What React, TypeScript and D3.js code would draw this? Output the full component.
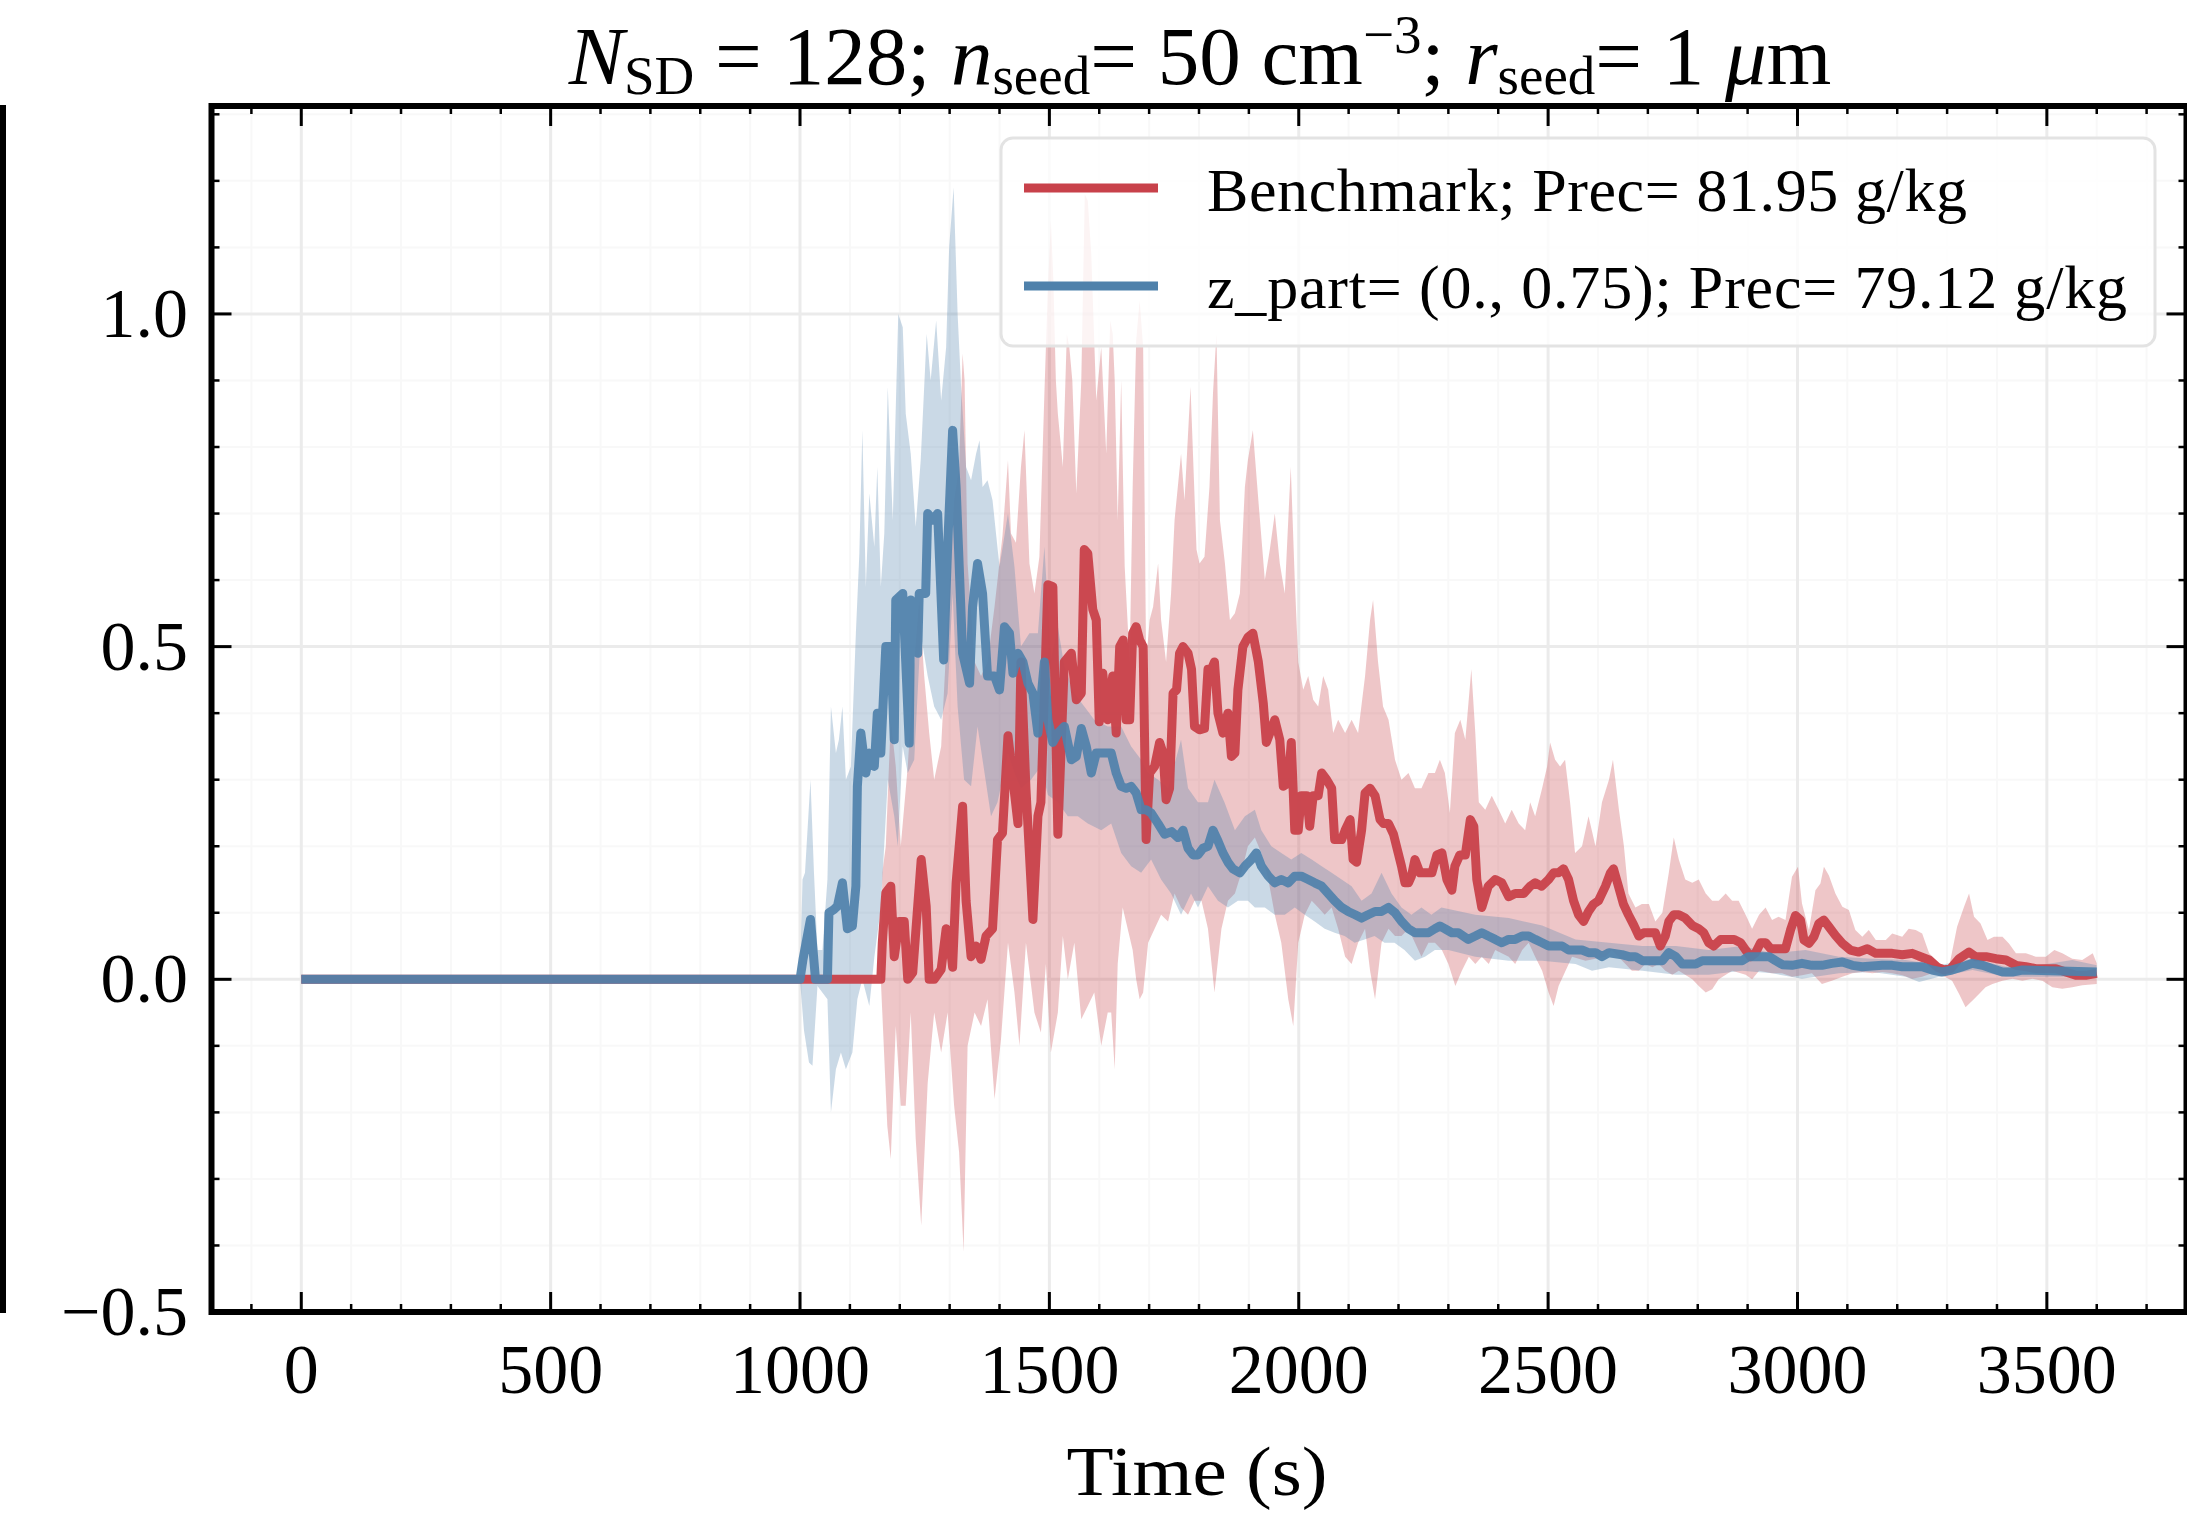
import React from "react";
import * as d3 from "d3";

// ---------- data (time [s], value) ----------
const redLine: [number, number][] = [
  [0,0],[1162,0],[1165,0.055],[1172,0.13],[1182,0.14],[1189,0.034],[1199,0.087],[1209,0.087],[1216,0],[1226,0.01],[1243,0.18],[1253,0.11],[1259,0],[1269,0],[1283,0.015],[1293,0.076],[1299,0.065],[1306,0.018],[1313,0.145],[1326,0.26],[1333,0.118],[1343,0.034],[1353,0.05],[1363,0.03],[1373,0.065],[1386,0.076],[1396,0.21],[1406,0.22],[1417,0.366],[1427,0.30],[1437,0.234],[1443,0.477],[1453,0.287],[1467,0.09],[1477,0.245],[1483,0.266],[1497,0.593],[1507,0.59],[1517,0.218],[1530,0.477],[1544,0.49],[1554,0.42],[1564,0.43],[1570,0.646],[1577,0.64],[1587,0.556],[1594,0.54],[1600,0.387],[1607,0.46],[1617,0.39],[1627,0.456],[1634,0.37],[1641,0.5],[1648,0.51],[1654,0.39],[1661,0.39],[1667,0.52],[1674,0.53],[1681,0.51],[1688,0.5],[1694,0.21],[1701,0.31],[1711,0.32],[1721,0.356],[1728,0.34],[1734,0.27],[1741,0.287],[1748,0.43],[1755,0.435],[1761,0.49],[1768,0.5],[1778,0.49],[1785,0.466],[1791,0.38],[1801,0.375],[1811,0.377],[1818,0.466],[1825,0.466],[1831,0.477],[1838,0.4],[1848,0.37],[1858,0.4],[1865,0.335],[1872,0.34],[1878,0.435],[1888,0.5],[1898,0.514],[1908,0.52],[1919,0.477],[1929,0.414],[1935,0.356],[1942,0.37],[1952,0.39],[1962,0.36],[1969,0.29],[1979,0.295],[1985,0.356],[1992,0.224],[1999,0.224],[2005,0.276],[2016,0.276],[2022,0.23],[2029,0.276],[2039,0.276],[2046,0.31],[2056,0.3],[2066,0.287],[2072,0.21],[2086,0.21],[2093,0.224],[2103,0.24],[2109,0.18],[2116,0.176],[2126,0.224],[2133,0.28],[2143,0.287],[2153,0.276],[2163,0.24],[2170,0.234],[2180,0.234],[2190,0.218],[2196,0.2],[2206,0.17],[2213,0.145],[2220,0.145],[2226,0.155],[2233,0.18],[2243,0.16],[2257,0.16],[2267,0.16],[2277,0.187],[2287,0.19],[2297,0.15],[2307,0.134],[2313,0.17],[2323,0.187],[2334,0.187],[2344,0.24],[2351,0.23],[2357,0.15],[2367,0.108],[2380,0.14],[2394,0.15],[2407,0.145],[2421,0.124],[2434,0.129],[2451,0.129],[2464,0.14],[2474,0.145],[2487,0.14],[2501,0.15],[2511,0.16],[2521,0.16],[2531,0.166],[2541,0.15],[2551,0.118],[2561,0.097],[2571,0.087],[2581,0.102],[2591,0.113],[2601,0.118],[2615,0.14],[2625,0.16],[2631,0.166],[2641,0.14],[2651,0.113],[2661,0.097],[2672,0.081],[2682,0.065],[2692,0.07],[2705,0.07],[2715,0.07],[2725,0.05],[2735,0.065],[2742,0.087],[2752,0.097],[2762,0.097],[2775,0.092],[2789,0.081],[2802,0.076],[2812,0.07],[2822,0.055],[2832,0.05],[2846,0.06],[2859,0.06],[2873,0.06],[2886,0.055],[2896,0.044],[2906,0.034],[2916,0.04],[2926,0.055],[2936,0.055],[2946,0.046],[2976,0.046],[2986,0.074],[2996,0.096],[3006,0.089],[3013,0.059],[3023,0.054],[3033,0.064],[3043,0.084],[3053,0.089],[3063,0.079],[3076,0.066],[3090,0.054],[3106,0.044],[3123,0.041],[3140,0.046],[3157,0.039],[3190,0.039],[3210,0.037],[3230,0.039],[3247,0.034],[3264,0.029],[3281,0.018],[3294,0.014],[3307,0.016],[3324,0.031],[3344,0.041],[3357,0.034],[3378,0.034],[3398,0.031],[3418,0.029],[3438,0.021],[3458,0.019],[3478,0.016],[3518,0.016],[3538,0.011],[3558,0.006],[3578,0.006],[3600,0.009]
];
const redUpper: [number, number][] = [
  [1162,0],[1165,0.16],[1172,0.2],[1182,0.39],[1192,0.32],[1202,0.2],[1216,0.32],[1229,0.477],[1239,0.57],[1249,0.456],[1259,0.37],[1269,0.3],[1283,0.35],[1296,0.54],[1309,0.72],[1319,0.77],[1326,0.94],[1330,0.9],[1336,0.625],[1350,0.477],[1363,0.456],[1376,0.477],[1390,0.56],[1406,0.667],[1417,0.78],[1423,0.67],[1433,0.656],[1443,0.77],[1450,0.825],[1460,0.625],[1470,0.58],[1480,0.635],[1490,0.88],[1497,1.04],[1503,1.14],[1508,1.05],[1513,0.9],[1517,0.85],[1527,0.77],[1535,0.97],[1540,0.95],[1546,0.9],[1554,0.73],[1564,0.9],[1571,1.18],[1577,1.17],[1584,1.09],[1594,0.87],[1604,0.95],[1614,0.79],[1622,0.99],[1627,0.97],[1631,0.9],[1637,0.69],[1644,0.9],[1651,0.62],[1661,0.477],[1667,0.74],[1674,0.96],[1681,1.02],[1688,0.95],[1694,0.477],[1701,0.54],[1708,0.56],[1718,0.625],[1724,0.54],[1734,0.477],[1744,0.58],[1751,0.69],[1764,0.79],[1771,0.72],[1783,0.89],[1795,0.646],[1801,0.625],[1811,0.635],[1821,0.74],[1828,0.88],[1835,0.97],[1842,0.69],[1852,0.625],[1862,0.54],[1872,0.55],[1882,0.58],[1892,0.74],[1898,0.78],[1908,0.825],[1919,0.72],[1932,0.6],[1942,0.646],[1952,0.7],[1962,0.625],[1972,0.58],[1984,0.77],[1992,0.6],[1999,0.477],[2009,0.435],[2019,0.456],[2029,0.42],[2039,0.41],[2049,0.456],[2059,0.435],[2069,0.37],[2079,0.39],[2093,0.37],[2106,0.39],[2119,0.37],[2133,0.456],[2143,0.54],[2149,0.57],[2159,0.477],[2169,0.41],[2180,0.39],[2193,0.33],[2206,0.3],[2220,0.31],[2233,0.287],[2246,0.287],[2260,0.31],[2273,0.31],[2283,0.33],[2293,0.31],[2303,0.25],[2313,0.37],[2324,0.39],[2334,0.36],[2346,0.466],[2354,0.37],[2361,0.266],[2374,0.255],[2387,0.276],[2401,0.255],[2414,0.234],[2427,0.255],[2441,0.234],[2454,0.224],[2464,0.266],[2474,0.245],[2488,0.287],[2498,0.32],[2504,0.356],[2514,0.33],[2524,0.32],[2534,0.33],[2544,0.266],[2554,0.19],[2568,0.2],[2581,0.245],[2595,0.2],[2608,0.266],[2622,0.3],[2630,0.33],[2642,0.255],[2652,0.2],[2661,0.129],[2675,0.108],[2688,0.113],[2702,0.113],[2715,0.087],[2729,0.1],[2742,0.16],[2752,0.213],[2762,0.18],[2775,0.15],[2789,0.145],[2802,0.15],[2816,0.129],[2829,0.118],[2842,0.118],[2856,0.129],[2869,0.118],[2882,0.118],[2896,0.097],[2909,0.076],[2923,0.097],[2936,0.108],[2949,0.089],[2962,0.094],[2976,0.089],[2989,0.154],[3001,0.169],[3009,0.114],[3023,0.074],[3036,0.134],[3046,0.144],[3053,0.169],[3063,0.156],[3076,0.129],[3090,0.109],[3103,0.104],[3116,0.074],[3130,0.064],[3143,0.074],[3157,0.059],[3177,0.059],[3190,0.069],[3210,0.064],[3223,0.076],[3237,0.074],[3250,0.069],[3264,0.039],[3284,0.024],[3304,0.019],[3320,0.079],[3334,0.109],[3344,0.129],[3354,0.094],[3367,0.084],[3381,0.059],[3394,0.064],[3411,0.064],[3424,0.054],[3438,0.039],[3458,0.039],[3478,0.034],[3498,0.034],[3515,0.044],[3531,0.039],[3551,0.031],[3571,0.029],[3592,0.039],[3600,0.024]
];
const redLower: [number, number][] = [
  [1162,0],[1165,-0.05],[1175,-0.22],[1182,-0.27],[1192,-0.07],[1202,-0.19],[1212,-0.19],[1222,-0.05],[1232,-0.24],[1243,-0.37],[1256,-0.156],[1269,-0.05],[1283,-0.11],[1296,-0.05],[1309,-0.19],[1319,-0.26],[1328,-0.41],[1336,-0.1],[1350,-0.05],[1363,-0.07],[1376,-0.03],[1390,-0.18],[1403,-0.09],[1417,0.055],[1430,-0.02],[1440,-0.1],[1453,0.055],[1470,-0.05],[1483,-0.08],[1493,0.023],[1503,-0.11],[1517,-0.05],[1527,0.065],[1537,0.0],[1550,0.055],[1564,-0.06],[1577,-0.04],[1590,-0.02],[1604,-0.1],[1617,-0.05],[1624,-0.05],[1631,-0.135],[1637,0.023],[1647,0.108],[1657,0.076],[1667,0.044],[1674,0],[1681,-0.03],[1688,-0.02],[1698,0.055],[1711,0.076],[1724,0.097],[1738,0.087],[1751,0.129],[1764,0.108],[1778,0.097],[1791,0.118],[1805,0.118],[1818,0.076],[1831,-0.02],[1845,0.076],[1858,0.118],[1872,0.129],[1885,0.16],[1898,0.2],[1912,0.213],[1925,0.19],[1939,0.15],[1952,0.097],[1965,0.055],[1979,-0.03],[1989,-0.07],[1999,0.055],[2012,0.097],[2026,0.118],[2039,0.108],[2052,0.097],[2066,0.108],[2079,0.076],[2093,0.034],[2106,0.023],[2119,0.055],[2133,0.076],[2143,0.013],[2153,-0.03],[2166,0.055],[2180,0.076],[2193,0.065],[2206,0.065],[2220,0.076],[2233,0.055],[2246,0.034],[2260,0.055],[2273,0.055],[2287,0.044],[2300,0.023],[2314,-0.01],[2327,0.013],[2341,0.034],[2354,0.023],[2367,0.034],[2381,0.023],[2394,0.044],[2421,0.034],[2434,0.023],[2448,0.044],[2461,0.055],[2474,0.034],[2488,0.013],[2501,-0.02],[2511,-0.04],[2521,-0.01],[2535,0.013],[2548,0.034],[2575,0.028],[2615,0.034],[2628,0.044],[2641,0.034],[2655,0.023],[2668,0.013],[2682,0.013],[2695,0.023],[2709,0.018],[2722,0.023],[2735,0.013],[2749,0.007],[2762,0.013],[2789,0.0],[2802,-0.01],[2816,-0.02],[2829,-0.015],[2842,0.0],[2869,0.013],[2896,0.007],[2909,0.0],[2923,0.013],[2949,0.009],[2969,0.009],[2989,0.004],[3009,0.006],[3029,0.009],[3049,-0.007],[3069,-0.002],[3090,0.004],[3110,0.009],[3130,0.011],[3150,0.009],[3170,0.011],[3190,0.009],[3210,0.006],[3230,0.001],[3250,0.004],[3270,0.009],[3290,0.006],[3310,-0.002],[3324,-0.022],[3337,-0.042],[3351,-0.032],[3364,-0.022],[3377,-0.012],[3391,-0.007],[3411,-0.002],[3431,0.001],[3451,-0.002],[3471,0.001],[3491,-0.002],[3511,-0.012],[3531,-0.014],[3551,-0.012],[3571,-0.009],[3600,-0.007]
];
const blueLine: [number, number][] = [
  [0,0],[1000,0],[1006,0.03],[1021,0.09],[1031,0],[1045,0],[1055,0],[1058,0.1],[1068,0.105],[1075,0.11],[1085,0.145],[1095,0.076],[1105,0.08],[1112,0.14],[1115,0.29],[1122,0.37],[1132,0.31],[1139,0.34],[1149,0.32],[1155,0.40],[1162,0.34],[1172,0.5],[1182,0.5],[1189,0.36],[1192,0.57],[1206,0.58],[1219,0.355],[1222,0.57],[1236,0.49],[1239,0.58],[1252,0.58],[1256,0.70],[1266,0.69],[1276,0.70],[1288,0.48],[1296,0.65],[1306,0.825],[1313,0.74],[1326,0.49],[1340,0.445],[1346,0.56],[1356,0.625],[1366,0.58],[1376,0.456],[1390,0.456],[1400,0.435],[1410,0.53],[1420,0.52],[1427,0.46],[1437,0.49],[1447,0.477],[1457,0.445],[1467,0.43],[1477,0.37],[1490,0.477],[1497,0.39],[1507,0.356],[1517,0.37],[1530,0.38],[1544,0.33],[1554,0.335],[1564,0.377],[1574,0.35],[1584,0.31],[1594,0.34],[1610,0.34],[1624,0.34],[1634,0.31],[1644,0.29],[1654,0.287],[1664,0.29],[1674,0.28],[1684,0.255],[1694,0.255],[1704,0.25],[1718,0.234],[1731,0.218],[1745,0.222],[1758,0.213],[1768,0.224],[1778,0.197],[1788,0.187],[1798,0.187],[1808,0.197],[1818,0.2],[1828,0.224],[1838,0.208],[1848,0.19],[1858,0.176],[1868,0.166],[1882,0.16],[1892,0.17],[1905,0.18],[1915,0.19],[1925,0.17],[1939,0.155],[1952,0.145],[1965,0.15],[1979,0.145],[1992,0.155],[2005,0.155],[2019,0.15],[2032,0.145],[2046,0.14],[2059,0.129],[2072,0.118],[2086,0.108],[2099,0.102],[2113,0.097],[2126,0.092],[2139,0.097],[2153,0.102],[2166,0.102],[2180,0.108],[2193,0.1],[2206,0.087],[2220,0.076],[2233,0.07],[2246,0.07],[2260,0.07],[2273,0.076],[2283,0.08],[2293,0.076],[2307,0.07],[2320,0.07],[2340,0.06],[2354,0.065],[2367,0.07],[2380,0.065],[2394,0.06],[2407,0.055],[2421,0.06],[2434,0.06],[2448,0.065],[2461,0.065],[2474,0.06],[2488,0.055],[2501,0.05],[2515,0.05],[2528,0.05],[2541,0.044],[2568,0.044],[2581,0.04],[2595,0.04],[2608,0.034],[2622,0.04],[2648,0.037],[2662,0.034],[2675,0.034],[2689,0.028],[2729,0.028],[2742,0.04],[2756,0.034],[2769,0.023],[2796,0.023],[2809,0.028],[2889,0.028],[2902,0.034],[2943,0.034],[2956,0.028],[2970,0.022],[2989,0.021],[3009,0.024],[3029,0.021],[3049,0.021],[3069,0.024],[3090,0.026],[3110,0.021],[3130,0.019],[3170,0.021],[3190,0.021],[3210,0.019],[3250,0.019],[3270,0.014],[3290,0.011],[3310,0.014],[3331,0.019],[3351,0.024],[3371,0.021],[3391,0.016],[3411,0.011],[3431,0.011],[3451,0.014],[3600,0.011]
];
const blueUpper: [number, number][] = [
  [1000,0],[1005,0.15],[1010,0.16],[1021,0.3],[1028,0.16],[1035,0.044],[1045,0.044],[1055,0.15],[1062,0.41],[1072,0.34],[1078,0.36],[1085,0.41],[1092,0.30],[1102,0.32],[1112,0.52],[1119,0.64],[1125,0.825],[1132,0.59],[1139,0.73],[1149,0.65],[1155,0.77],[1162,0.59],[1169,0.67],[1176,0.89],[1186,0.69],[1197,1.0],[1206,0.98],[1212,0.85],[1222,0.79],[1232,0.68],[1242,0.78],[1254,0.97],[1262,0.90],[1273,0.99],[1283,0.87],[1293,0.95],[1299,1.1],[1308,1.19],[1316,1.0],[1323,0.89],[1333,0.77],[1343,0.75],[1353,0.79],[1360,0.81],[1366,0.74],[1376,0.75],[1386,0.72],[1400,0.62],[1417,0.70],[1430,0.62],[1443,0.5],[1460,0.52],[1477,0.52],[1490,0.65],[1503,0.48],[1517,0.53],[1530,0.47],[1550,0.43],[1570,0.41],[1590,0.39],[1617,0.38],[1644,0.38],[1664,0.35],[1684,0.33],[1698,0.31],[1718,0.3],[1738,0.287],[1764,0.36],[1778,0.287],[1798,0.266],[1818,0.266],[1831,0.3],[1851,0.266],[1872,0.224],[1892,0.245],[1912,0.255],[1925,0.224],[1945,0.2],[1965,0.19],[1985,0.18],[2005,0.19],[2026,0.18],[2046,0.17],[2066,0.16],[2086,0.15],[2106,0.14],[2126,0.118],[2146,0.129],[2166,0.16],[2186,0.129],[2206,0.108],[2226,0.097],[2246,0.108],[2266,0.097],[2286,0.108],[2354,0.097],[2421,0.092],[2488,0.081],[2555,0.06],[2622,0.055],[2689,0.05],[2756,0.05],[2822,0.044],[2889,0.05],[2949,0.039],[3016,0.044],[3083,0.034],[3150,0.031],[3217,0.029],[3284,0.021],[3351,0.031],[3418,0.019],[3484,0.021],[3551,0.029],[3600,0.021]
];
const blueLower: [number, number][] = [
  [1000,0],[1008,-0.077],[1018,-0.125],[1025,-0.13],[1035,-0.01],[1055,-0.03],[1062,-0.2],[1072,-0.135],[1082,-0.11],[1092,-0.135],[1105,-0.11],[1115,-0.03],[1125,0],[1139,-0.04],[1149,0.033],[1162,0.107],[1176,0.3],[1189,0.245],[1196,0.2],[1206,0.35],[1216,0.31],[1229,0.33],[1242,0.52],[1256,0.456],[1269,0.41],[1283,0.39],[1296,0.43],[1306,0.58],[1316,0.41],[1329,0.30],[1343,0.29],[1356,0.38],[1370,0.31],[1383,0.245],[1396,0.266],[1417,0.34],[1430,0.31],[1443,0.287],[1463,0.30],[1483,0.32],[1497,0.277],[1517,0.266],[1537,0.245],[1557,0.245],[1577,0.234],[1604,0.224],[1624,0.234],[1644,0.19],[1664,0.17],[1684,0.16],[1704,0.18],[1724,0.15],[1744,0.129],[1764,0.097],[1784,0.129],[1798,0.108],[1818,0.14],[1838,0.118],[1858,0.108],[1878,0.118],[1898,0.118],[1912,0.108],[1932,0.108],[1952,0.097],[1972,0.097],[1992,0.108],[2012,0.097],[2032,0.087],[2052,0.076],[2072,0.07],[2092,0.065],[2112,0.055],[2132,0.06],[2152,0.065],[2172,0.055],[2192,0.055],[2212,0.044],[2233,0.028],[2253,0.034],[2273,0.044],[2300,0.044],[2354,0.034],[2421,0.028],[2488,0.028],[2555,0.023],[2588,0.013],[2622,0.018],[2689,0.013],[2756,0.007],[2822,0.007],[2889,0.013],[2949,0.009],[3009,0.001],[3083,0.009],[3150,0.011],[3217,0.004],[3244,-0.004],[3284,0.004],[3351,0.014],[3418,0.004],[3484,0.004],[3551,0.004],[3600,0.004]
];

const xMajorTicks = [0, 500, 1000, 1500, 2000, 2500, 3000, 3500];
const xTickLabels = ["0", "500", "1000", "1500", "2000", "2500", "3000", "3500"];
const yMajorTicks = [-0.5, 0, 0.5, 1.0];
const yTickLabels = ["\u22120.5", "0.0", "0.5", "1.0"];
const legendLabels = ["Benchmark; Prec= 81.95 g/kg", "z_part= (0., 0.75); Prec= 79.12 g/kg"];

const RED = "#c8414a";
const BLUE = "#4f81ab";
const FONT = "'Liberation Serif', 'DejaVu Serif', serif";

export default function App() {
  const W = 2187, H = 1513;
  const L = 211.5, R = 2186.5, T = 106, B = 1312;
  const x = d3.scaleLinear().domain([-180, 3780]).range([L, R]);
  const y = d3.scaleLinear().domain([-0.5, 1.3125]).range([B, T]);

  const line = d3.line<[number, number]>().x(d => x(d[0])).y(d => y(d[1]));
  const band = (up: [number, number][], lo: [number, number][]) => {
    const a = line(up) || "";
    const b = (line([...lo].reverse()) || "").replace(/^M/, "L");
    return a + b + "Z";
  };

  const xMinor = d3.range(-100, 3781, 100).filter(v => v % 500 !== 0);
  const yMinor = d3.range(-0.5, 1.31, 0.1).map(v => Math.round(v * 10) / 10).filter(v => Math.abs((v * 10) % 5) > 1e-6);

  const gridMajor = "#ebebeb";
  const gridMinor = "#f8f8f8";
  const LW = 9;

  return (
    <svg width={W} height={H} style={{ position: "absolute", left: 0, top: 0, background: "#fff" }} fontFamily={FONT}>
      <rect x={0} y={0} width={W} height={H} fill="#fff" />
      <defs>
        <clipPath id="plotclip">
          <rect x={L} y={T} width={R - L} height={B - T} />
        </clipPath>
      </defs>
      {/* left stray bar */}
      <rect x={0} y={T - 1} width={6} height={B - T + 2} fill="#000" />

      {/* grid */}
      <g>
        {xMinor.map(v => <line key={"gxm" + v} x1={x(v)} x2={x(v)} y1={T} y2={B} stroke={gridMinor} strokeWidth={2} />)}
        {yMinor.map(v => <line key={"gym" + v} x1={L} x2={R} y1={y(v)} y2={y(v)} stroke={gridMinor} strokeWidth={2} />)}
        {xMajorTicks.map(v => <line key={"gx" + v} x1={x(v)} x2={x(v)} y1={T} y2={B} stroke={gridMajor} strokeWidth={3} />)}
        {yMajorTicks.map(v => <line key={"gy" + v} x1={L} x2={R} y1={y(v)} y2={y(v)} stroke={gridMajor} strokeWidth={3} />)}
      </g>

      <g clipPath="url(#plotclip)">
        <path d={band(redUpper, redLower)} fill={RED} fillOpacity={0.3} stroke="none" />
        <path d={band(blueUpper, blueLower)} fill={BLUE} fillOpacity={0.3} stroke="none" />
        <path d={line(redLine) || ""} fill="none" stroke={RED} strokeWidth={LW} strokeOpacity={0.95} strokeLinejoin="round" />
        <path d={line(blueLine) || ""} fill="none" stroke={BLUE} strokeWidth={LW} strokeOpacity={0.92} strokeLinejoin="round" />
      </g>

      {/* ticks */}
      <g stroke="#000">
        {xMajorTicks.map(v => (
          <g key={"xt" + v}>
            <line x1={x(v)} x2={x(v)} y1={B} y2={B - 20} strokeWidth={3} />
            <line x1={x(v)} x2={x(v)} y1={T} y2={T + 20} strokeWidth={3} />
          </g>
        ))}
        {xMinor.map(v => (
          <g key={"xmt" + v}>
            <line x1={x(v)} x2={x(v)} y1={B} y2={B - 8} strokeWidth={2.5} />
            <line x1={x(v)} x2={x(v)} y1={T} y2={T + 8} strokeWidth={2.5} />
          </g>
        ))}
        {yMajorTicks.map(v => (
          <g key={"yt" + v}>
            <line x1={L} x2={L + 20} y1={y(v)} y2={y(v)} strokeWidth={3} />
            <line x1={R} x2={R - 20} y1={y(v)} y2={y(v)} strokeWidth={3} />
          </g>
        ))}
        {yMinor.map(v => (
          <g key={"ymt" + v}>
            <line x1={L} x2={L + 8} y1={y(v)} y2={y(v)} strokeWidth={2.5} />
            <line x1={R} x2={R - 8} y1={y(v)} y2={y(v)} strokeWidth={2.5} />
          </g>
        ))}
      </g>

      {/* spines */}
      <rect x={L} y={T} width={R - L} height={B - T} fill="none" stroke="#000" strokeWidth={6} />

      {/* tick labels */}
      {xMajorTicks.map((v, i) => (
        <text key={"xl" + v} x={x(v)} y={1393} fontSize={70} textAnchor="middle" fill="#000">{xTickLabels[i]}</text>
      ))}
      {yMajorTicks.map((v, i) => (
        <text key={"yl" + v} x={188} y={y(v) + 23} fontSize={70} textAnchor="end" fill="#000">{yTickLabels[i]}</text>
      ))}

      {/* axis label */}
      <text x={1197} y={1495} fontSize={70} textAnchor="middle" fill="#000" textLength={261} lengthAdjust="spacingAndGlyphs">Time (s)</text>

      {/* title */}
      <text x={1200} y={84} fontSize={83} textAnchor="middle" fill="#000" style={{ whiteSpace: "pre" }}>
        <tspan fontStyle="italic">N</tspan>
        <tspan fontSize={55} dy={10}>SD</tspan>
        <tspan dy={-10}>{" = 128; "}</tspan>
        <tspan fontStyle="italic">n</tspan>
        <tspan fontSize={55} dy={10}>seed</tspan>
        <tspan dy={-10}>{"= 50 cm"}</tspan>
        <tspan fontSize={55} dy={-31}>{"\u22123"}</tspan>
        <tspan dy={31}>{"; "}</tspan>
        <tspan fontStyle="italic">r</tspan>
        <tspan fontSize={55} dy={10}>seed</tspan>
        <tspan dy={-10}>{"= 1 "}</tspan>
        <tspan fontStyle="italic">{"\u03bc"}</tspan>
        <tspan>m</tspan>
      </text>

      {/* legend */}
      <g>
        <rect x={1001} y={138} width={1154} height={208} rx={12} ry={12} fill="#fff" fillOpacity={0.8} stroke="#e3e3e3" strokeWidth={3} />
        <line x1={1024} x2={1158} y1={188} y2={188} stroke={RED} strokeWidth={LW} />
        <line x1={1024} x2={1158} y1={286} y2={286} stroke={BLUE} strokeWidth={LW} />
        <text x={1207} y={211} fontSize={62} fill="#000" textLength={760} lengthAdjust="spacing">{legendLabels[0]}</text>
        <text x={1207} y={308} fontSize={62} fill="#000" textLength={920} lengthAdjust="spacing">{legendLabels[1]}</text>
      </g>
    </svg>
  );
}
